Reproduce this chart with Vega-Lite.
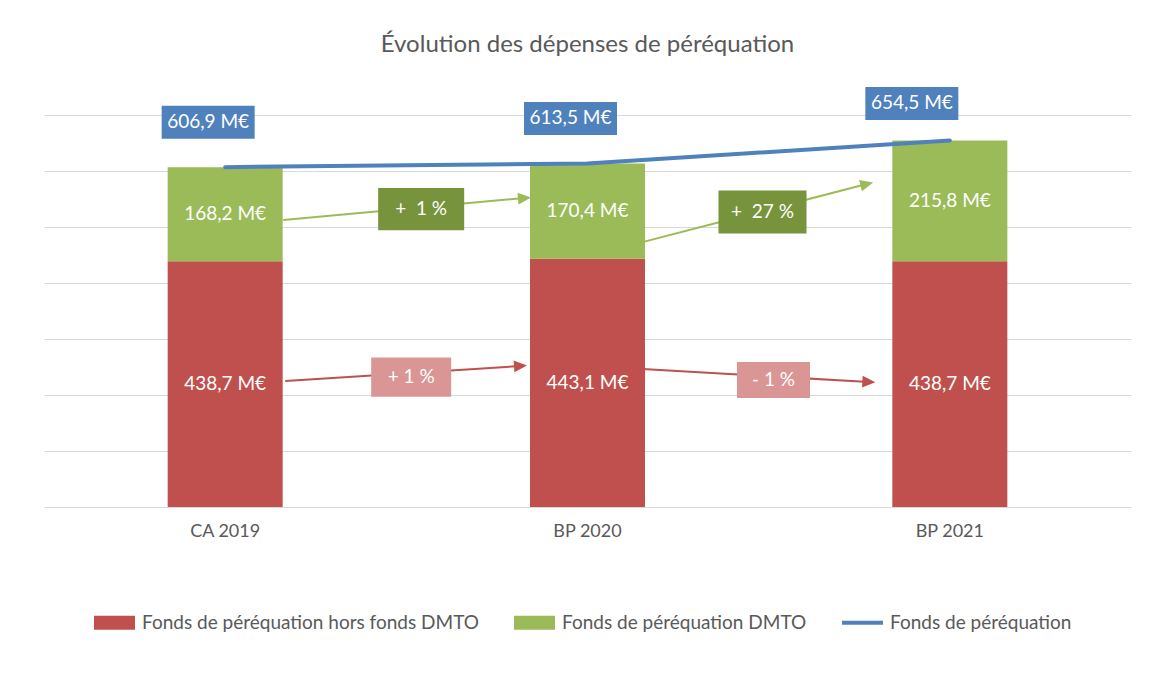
{
  "$schema": "https://vega.github.io/schema/vega-lite/v6.json",
  "width": 1087,
  "height": 392,
  "autosize": "none",
  "padding": {"left": 44, "top": 115, "right": 23, "bottom": 177},
  "background": "#FFFFFF",
  "config": {
    "view": {"stroke": null},
    "font": "Lato",
    "locale": {"number": {"decimal": ",", "thousands": " ", "grouping": [3], "currency": ["", " M€"]}}
  },
  "title": {
    "text": "Évolution des dépenses de péréquation",
    "fontSize": 24,
    "fontWeight": "normal",
    "color": "#595959",
    "font": "Lato",
    "anchor": "middle",
    "frame": "group",
    "baseline": "alphabetic",
    "offset": 11
  },
  "datasets": {
    "bars": [
      {"cat": "CA 2019", "series": "Fonds de péréquation hors fonds DMTO", "value": 438.7},
      {"cat": "CA 2019", "series": "Fonds de péréquation DMTO", "value": 168.2},
      {"cat": "BP 2020", "series": "Fonds de péréquation hors fonds DMTO", "value": 443.1},
      {"cat": "BP 2020", "series": "Fonds de péréquation DMTO", "value": 170.4},
      {"cat": "BP 2021", "series": "Fonds de péréquation hors fonds DMTO", "value": 438.7},
      {"cat": "BP 2021", "series": "Fonds de péréquation DMTO", "value": 215.8}
    ],
    "totals": [
      {"cat": "CA 2019", "total": 606.9},
      {"cat": "BP 2020", "total": 613.5},
      {"cat": "BP 2021", "total": 654.5}
    ],
    "arrows": [
      {"id": "g1", "from": "CA 2019", "to": "BP 2020", "y1": 512.5, "y2": 551.8, "ly": 532, "label": "+ \u00a01 %"},
      {"id": "g2", "from": "BP 2020", "to": "BP 2021", "y1": 473, "y2": 576.8, "ly": 526.8, "label": "+ \u00a027 %"},
      {"id": "r1", "from": "CA 2019", "to": "BP 2020", "y1": 225, "y2": 251.8, "ly": 232, "label": "+ 1 %"},
      {"id": "r2", "from": "BP 2020", "to": "BP 2021", "y1": 246.4, "y2": 223.2, "ly": 226.8, "label": "- 1 %"}
    ]
  },
  "layer": [
    {
      "data": {"name": "bars"},
      "mark": {"type": "bar"},
      "encoding": {
        "x": {
          "field": "cat", "type": "nominal", "sort": null, "title": null,
          "scale": {"domain": ["CA 2019", "BP 2020", "BP 2021"], "paddingInner": 0.6826, "paddingOuter": 0.3413},
          "axis": {"title": null, "domain": false, "ticks": false, "tickSize": 0, "labelPadding": 15, "labelFontSize": 18, "labelColor": "#595959", "labelFont": "Lato", "labelAngle": 0, "grid": false}
        },
        "y": {
          "field": "value", "type": "quantitative", "stack": "zero", "title": null,
          "scale": {"domain": [0, 700], "nice": false},
          "axis": {"title": null, "labels": false, "ticks": false, "domain": false, "grid": true, "gridColor": "#D9D9D9", "gridWidth": 1, "values": [0, 100, 200, 300, 400, 500, 600, 700]}
        },
        "color": {
          "field": "series", "type": "nominal",
          "scale": {"domain": ["Fonds de péréquation hors fonds DMTO", "Fonds de péréquation DMTO", "Fonds de péréquation"], "range": ["#C0504D", "#9BBB59", "#4F81BD"]},
          "legend": {
            "orient": "none", "legendX": 50, "legendY": 487, "direction": "horizontal", "columns": 3,
            "title": null, "labelFontSize": 19, "labelColor": "#595959", "labelFont": "Lato", "labelOffset": 7,
            "columnPadding": 35, "symbolSize": 1681, "symbolType": "square", "symbolStrokeWidth": 0, "labelLimit": 0,
            "encode": {"symbols": {"update": {
              "shape": {"signal": "datum.value === 'Fonds de péréquation' ? 'M-1,-0.1H1V0.1H-1Z' : 'M-1,-0.34H1V0.34H-1Z'"},
              "fill": {"scale": "color", "field": "value"},
              "stroke": {"value": "transparent"},
              "opacity": {"value": 1}
            }}}
          }
        },
        "order": {"field": "series", "type": "nominal", "sort": "descending"}
      }
    },
    {
      "data": {"name": "bars"},
      "transform": [
        {"stack": "value", "groupby": ["cat"], "sort": [{"field": "series", "order": "descending"}], "as": ["y0", "y1"]},
        {"fold": ["y0", "y1"], "as": ["k", "v"]},
        {"aggregate": [{"op": "mean", "field": "v", "as": "mid"}], "groupby": ["cat", "series", "value"]}
      ],
      "mark": {"type": "text", "color": "#FFFFFF", "fontSize": 19, "font": "Lato", "baseline": "middle", "align": "center"},
      "encoding": {
        "x": {"field": "cat", "type": "nominal", "bandPosition": 0.5, "title": null},
        "y": {"field": "mid", "type": "quantitative", "title": null},
        "text": {"field": "value", "type": "quantitative", "format": "$.1f"}
      }
    },
    {
      "data": {"name": "totals"},
      "mark": {"type": "line", "strokeWidth": 4, "strokeCap": "round"},
      "encoding": {
        "x": {"field": "cat", "type": "nominal", "bandPosition": 0.5, "title": null},
        "y": {"field": "total", "type": "quantitative", "title": null},
        "color": {"datum": "Fonds de péréquation"}
      }
    },
    {
      "data": {"name": "totals"},
      "transform": [{"filter": "datum.cat !== 'BP 2021'"}],
      "encoding": {
        "x": {"field": "cat", "type": "nominal", "bandPosition": 0.5, "title": null},
        "y": {"field": "total", "type": "quantitative", "title": null}
      },
      "layer": [
        {"mark": {"type": "point", "shape": "M-1,-0.355H1V0.355H-1Z", "size": 8649, "filled": true, "color": "#4F81BD", "opacity": 1, "strokeWidth": 0, "xOffset": -17, "yOffset": -45}},
        {"mark": {"type": "text", "color": "#FFFFFF", "fontSize": 19, "font": "Lato", "baseline": "middle", "align": "center", "xOffset": -17, "yOffset": -45},
         "encoding": {"text": {"field": "total", "type": "quantitative", "format": "$.1f"}}}
      ]
    },
    {
      "data": {"name": "totals"},
      "transform": [{"filter": "datum.cat === 'BP 2021'"}],
      "encoding": {
        "x": {"field": "cat", "type": "nominal", "bandPosition": 0.5, "title": null},
        "y": {"field": "total", "type": "quantitative", "title": null}
      },
      "layer": [
        {"mark": {"type": "point", "shape": "M-1,-0.355H1V0.355H-1Z", "size": 8649, "filled": true, "color": "#4F81BD", "opacity": 1, "strokeWidth": 0, "xOffset": -38, "yOffset": -37}},
        {"mark": {"type": "text", "color": "#FFFFFF", "fontSize": 19, "font": "Lato", "baseline": "middle", "align": "center", "xOffset": -38, "yOffset": -37},
         "encoding": {"text": {"field": "total", "type": "quantitative", "format": "$.1f"}}}
      ]
    },
    {
      "data": {"name": "arrows"},
      "transform": [{"filter": "datum.id === 'g1'"}],
      "layer": [
        {"mark": {"type": "rule", "color": "#9BBB59", "strokeWidth": 2, "xOffset": 58, "x2Offset": -63},
         "encoding": {"x": {"field": "from", "type": "nominal", "bandPosition": 0.5, "title": null}, "x2": {"field": "to", "bandPosition": 0.5}, "y": {"field": "y1", "type": "quantitative", "title": null}, "y2": {"field": "y2"}}},
        {"mark": {"type": "point", "shape": "M1,0L-1,-0.9L-1,0.9Z", "size": 169, "filled": true, "color": "#9BBB59", "opacity": 1, "strokeWidth": 0, "angle": -5.1, "xOffset": -63},
         "encoding": {"x": {"field": "to", "type": "nominal", "bandPosition": 0.5, "title": null}, "y": {"field": "y2", "type": "quantitative", "title": null}}},
        {"mark": {"type": "point", "shape": "M-1,-0.49H1V0.49H-1Z", "size": 7396, "filled": true, "color": "#77933C", "opacity": 1, "strokeWidth": 0, "xOffset": 196},
         "encoding": {"x": {"field": "from", "type": "nominal", "bandPosition": 0.5, "title": null}, "y": {"field": "ly", "type": "quantitative", "title": null}}},
        {"mark": {"type": "text", "color": "#FFFFFF", "fontSize": 19, "font": "Lato", "baseline": "middle", "align": "center", "xOffset": 196},
         "encoding": {"x": {"field": "from", "type": "nominal", "bandPosition": 0.5, "title": null}, "y": {"field": "ly", "type": "quantitative", "title": null}, "text": {"field": "label"}}}
      ]
    },
    {
      "data": {"name": "arrows"},
      "transform": [{"filter": "datum.id === 'g2'"}],
      "layer": [
        {"mark": {"type": "rule", "color": "#9BBB59", "strokeWidth": 2, "xOffset": 55, "x2Offset": -83},
         "encoding": {"x": {"field": "from", "type": "nominal", "bandPosition": 0.5, "title": null}, "x2": {"field": "to", "bandPosition": 0.5}, "y": {"field": "y1", "type": "quantitative", "title": null}, "y2": {"field": "y2"}}},
        {"mark": {"type": "point", "shape": "M1,0L-1,-0.9L-1,0.9Z", "size": 169, "filled": true, "color": "#9BBB59", "opacity": 1, "strokeWidth": 0, "angle": -14.1, "xOffset": -83},
         "encoding": {"x": {"field": "to", "type": "nominal", "bandPosition": 0.5, "title": null}, "y": {"field": "y2", "type": "quantitative", "title": null}}},
        {"mark": {"type": "point", "shape": "M-1,-0.49H1V0.49H-1Z", "size": 7744, "filled": true, "color": "#77933C", "opacity": 1, "strokeWidth": 0, "xOffset": 175},
         "encoding": {"x": {"field": "from", "type": "nominal", "bandPosition": 0.5, "title": null}, "y": {"field": "ly", "type": "quantitative", "title": null}}},
        {"mark": {"type": "text", "color": "#FFFFFF", "fontSize": 19, "font": "Lato", "baseline": "middle", "align": "center", "xOffset": 175},
         "encoding": {"x": {"field": "from", "type": "nominal", "bandPosition": 0.5, "title": null}, "y": {"field": "ly", "type": "quantitative", "title": null}, "text": {"field": "label"}}}
      ]
    },
    {
      "data": {"name": "arrows"},
      "transform": [{"filter": "datum.id === 'r1'"}],
      "layer": [
        {"mark": {"type": "rule", "color": "#C0504D", "strokeWidth": 2, "xOffset": 60, "x2Offset": -67},
         "encoding": {"x": {"field": "from", "type": "nominal", "bandPosition": 0.5, "title": null}, "x2": {"field": "to", "bandPosition": 0.5}, "y": {"field": "y1", "type": "quantitative", "title": null}, "y2": {"field": "y2"}}},
        {"mark": {"type": "point", "shape": "M1,0L-1,-0.9L-1,0.9Z", "size": 169, "filled": true, "color": "#C0504D", "opacity": 1, "strokeWidth": 0, "angle": -3.5, "xOffset": -67},
         "encoding": {"x": {"field": "to", "type": "nominal", "bandPosition": 0.5, "title": null}, "y": {"field": "y2", "type": "quantitative", "title": null}}},
        {"mark": {"type": "point", "shape": "M-1,-0.49H1V0.49H-1Z", "size": 6400, "filled": true, "color": "#D99694", "opacity": 1, "strokeWidth": 0, "xOffset": 186},
         "encoding": {"x": {"field": "from", "type": "nominal", "bandPosition": 0.5, "title": null}, "y": {"field": "ly", "type": "quantitative", "title": null}}},
        {"mark": {"type": "text", "color": "#FFFFFF", "fontSize": 19, "font": "Lato", "baseline": "middle", "align": "center", "xOffset": 186},
         "encoding": {"x": {"field": "from", "type": "nominal", "bandPosition": 0.5, "title": null}, "y": {"field": "ly", "type": "quantitative", "title": null}, "text": {"field": "label"}}}
      ]
    },
    {
      "data": {"name": "arrows"},
      "transform": [{"filter": "datum.id === 'r2'"}],
      "layer": [
        {"mark": {"type": "rule", "color": "#C0504D", "strokeWidth": 2, "xOffset": 55, "x2Offset": -81},
         "encoding": {"x": {"field": "from", "type": "nominal", "bandPosition": 0.5, "title": null}, "x2": {"field": "to", "bandPosition": 0.5}, "y": {"field": "y1", "type": "quantitative", "title": null}, "y2": {"field": "y2"}}},
        {"mark": {"type": "point", "shape": "M1,0L-1,-0.9L-1,0.9Z", "size": 169, "filled": true, "color": "#C0504D", "opacity": 1, "strokeWidth": 0, "angle": 3.2, "xOffset": -81},
         "encoding": {"x": {"field": "to", "type": "nominal", "bandPosition": 0.5, "title": null}, "y": {"field": "y2", "type": "quantitative", "title": null}}},
        {"mark": {"type": "point", "shape": "M-1,-0.49H1V0.49H-1Z", "size": 5329, "filled": true, "color": "#D99694", "opacity": 1, "strokeWidth": 0, "xOffset": 186},
         "encoding": {"x": {"field": "from", "type": "nominal", "bandPosition": 0.5, "title": null}, "y": {"field": "ly", "type": "quantitative", "title": null}}},
        {"mark": {"type": "text", "color": "#FFFFFF", "fontSize": 19, "font": "Lato", "baseline": "middle", "align": "center", "xOffset": 186},
         "encoding": {"x": {"field": "from", "type": "nominal", "bandPosition": 0.5, "title": null}, "y": {"field": "ly", "type": "quantitative", "title": null}, "text": {"field": "label"}}}
      ]
    }
  ]
}
